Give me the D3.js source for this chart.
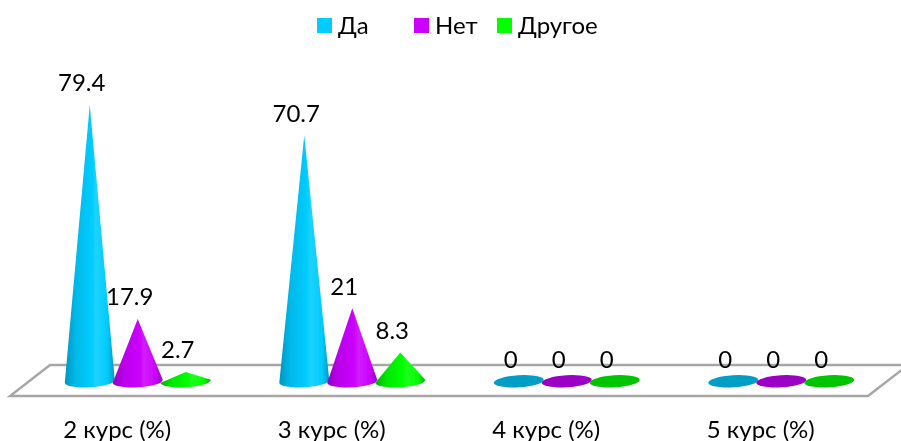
<!DOCTYPE html>
<html><head><meta charset="utf-8">
<script src="https://cdn.jsdelivr.net/npm/d3@7/dist/d3.min.js"></script>
<style>html,body{margin:0;padding:0;background:#fff;overflow:hidden}svg{display:block}text{font-family:Lato,"Open Sans",sans-serif;fill:#000}</style>
</head><body><svg id="c" width="901" height="441"></svg>
<script>
const categories = ["2 курс (%)","3 курс (%)","4 курс (%)","5 курс (%)"];
const seriesNames = ["Да","Нет","Другое"];
const seriesColors = ["#00ccff","#cc00ff","#00ff00"];
const zeroColors = ["#009dc4","#9c00c4","#00c400"];
const darkColors = ["#0096c0","#9600c0","#00b400"];
const da = [79.4,70.7,0,0];
const net = [17.9,21,0,0];
const drugoe = [2.7,8.3,0,0];
const seriesValues = [da,net,drugoe];

const svg = d3.select("#c");
const x = d3.scaleBand().domain(categories).range([30.5,888.5]);
const s = d3.scalePoint().domain(seriesNames).range([-48,48]);
const y = d3.scaleLinear().domain([0,79.4]).range([381.3,105]);
const RX = 25, RY = 6, TILT = -3.5;
const rad = TILT*Math.PI/180;

const defs = svg.append("defs");
seriesNames.forEach((n,i)=>{
  const g = defs.append("linearGradient").attr("id","g"+i).attr("x1","0").attr("x2","1").attr("y1","0").attr("y2","0");
  [[0,darkColors[i]],[.22,d3.interpolateRgb(darkColors[i],seriesColors[i])(.65)],[.55,seriesColors[i]],[.62,d3.interpolateRgb(seriesColors[i],"#fff")(.12)],[.85,seriesColors[i]],[1,darkColors[i]]]
    .forEach(([o,c])=>g.append("stop").attr("offset",o).attr("stop-color",c));
});
defs.append("filter").attr("id","soft").append("feGaussianBlur").attr("stdDeviation",0.45);

// floor
const floorY = [396,365];
svg.append("path")
  .attr("d",d3.line()([[10,floorY[0]],[868,floorY[0]],[908,floorY[1]],[50,floorY[1]]])+"Z")
  .attr("fill","#fff").attr("stroke","#a6a6a6").attr("stroke-width",2.4).attr("stroke-linejoin","miter");

// cones
const marks = svg.append("g").attr("filter","url(#soft)");
categories.forEach((cat,ci)=>{
  seriesNames.forEach((name,si)=>{
    const v = seriesValues[si][ci];
    const cx = x(cat)+x.bandwidth()/2+s(name), by = y(0);
    if(v===0){
      marks.append("ellipse").attr("cx",cx).attr("cy",by).attr("rx",RX).attr("ry",RY)
        .attr("transform",`rotate(${TILT} ${cx} ${by})`).attr("fill",zeroColors[si]);
    } else {
      const lx = cx-RX*Math.cos(rad), ly = by-RX*Math.sin(rad);
      const rx = cx+RX*Math.cos(rad), ry = by+RX*Math.sin(rad);
      marks.append("path")
        .attr("d",`M${cx},${y(v)}L${rx},${ry}A${RX},${RY} ${TILT} 0 1 ${lx},${ly}Z`)
        .attr("fill",`url(#g${si})`);
    }
  });
});

// data labels
categories.forEach((cat,ci)=>{
  seriesNames.forEach((name,si)=>{
    const v = seriesValues[si][ci];
    svg.append("text").attr("x",x(cat)+x.bandwidth()/2+s(name)-8).attr("y",y(v)-22)
      .attr("dy","0.35em").attr("text-anchor","middle").attr("font-size",24).text(v);
  });
});

// category axis
const ax = svg.append("g").attr("transform","translate(-20.5,0)")
  .call(d3.axisBottom(x).tickSize(0).tickPadding(0));
ax.select(".domain").remove();
ax.selectAll("text").attr("y",437.5).attr("dy",0).attr("font-size",24).style("font-family","Lato,'Open Sans',sans-serif");

// legend
const lgX = [317,414,497];
seriesNames.forEach((n,i)=>{
  svg.append("rect").attr("x",lgX[i]).attr("y",18).attr("width",15).attr("height",15).attr("fill",seriesColors[i]);
  svg.append("text").attr("x",lgX[i]+21).attr("y",25.5).attr("dy","0.35em").attr("font-size",24).text(n);
});
</script></body></html>
